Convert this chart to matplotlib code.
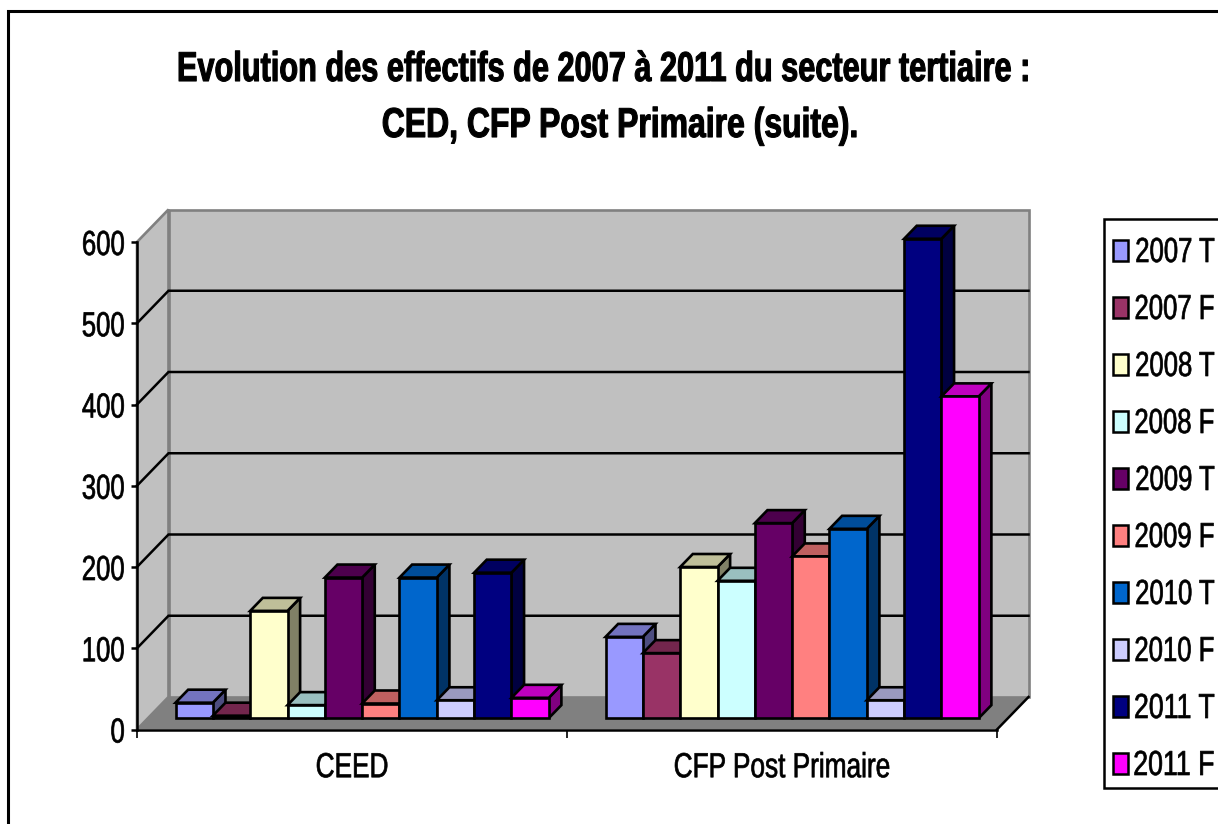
import matplotlib
matplotlib.use("Agg")
import matplotlib.pyplot as plt
from matplotlib.patches import Polygon, Rectangle
from matplotlib.lines import Line2D
from matplotlib.colors import to_rgb
from matplotlib.patheffects import AbstractPathEffect
from matplotlib.transforms import Affine2D

categories = ["CEED", "CFP Post Primaire"]
series = ["2007 T", "2007 F", "2008 T", "2008 F", "2009 T",
          "2009 F", "2010 T", "2010 F", "2011 T", "2011 F"]
ceed = [19, 3, 132, 16, 173, 18, 173, 22, 179, 25]
cfp = [100, 80, 186, 169, 240, 199, 233, 22, 590, 396]
colors = ["#9999FF", "#993366", "#FFFFCC", "#CCFFFF", "#660066",
          "#FF8080", "#0066CC", "#CCCCFF", "#000080", "#FF00FF"]
yticks = [0, 100, 200, 300, 400, 500, 600]

W, H = 1218, 824
plt.rcParams["font.family"] = ["Liberation Sans"]


# the reference text is a horizontally squeezed Arial, no condensed font here
class Squeeze(AbstractPathEffect):
    def __init__(self, sx, anchor="center", weight=0.5):
        super().__init__()
        self.sx = sx
        self.anchor = anchor
        self.weight = weight

    def draw_path(self, renderer, gc, tpath, affine, rgbFace=None):
        box = tpath.get_extents(affine)
        cx = {"left": box.x0, "center": (box.x0 + box.x1) / 2, "right": box.x1}[self.anchor]
        squeeze = Affine2D().translate(-cx, 0).scale(self.sx, 1).translate(cx, 0)
        gc0 = renderer.new_gc()
        gc0.copy_properties(gc)
        gc0.set_linewidth(self.weight)
        gc0.set_foreground(rgbFace)
        renderer.draw_path(gc0, tpath, affine + squeeze, rgbFace)
        gc0.restore()


fig = plt.figure(figsize=(W / 100, H / 100), dpi=100)
fig.patch.set_facecolor("white")
px = Affine2D().scale(1, -1).translate(0, H)  # y-down picture pixels

# outer frame, only left and top are in the picture
fig.add_artist(Line2D([W, 7.5, 7.5], [10.5, 10.5, H], color="black", lw=2.2, transform=px,
                      solid_joinstyle="miter"))

# axes = front plane of the fake 3d box
ax = fig.add_axes([137 / W, 1 - 729.5 / H, 860 / W, 487.5 / H])
ax.set_xlim(0, 2)
ax.set_ylim(0, 600)
ax.patch.set_visible(False)
for s in ax.spines.values():
    s.set_visible(False)

# one full depth of the box in data units
DX = 31.5 / 430
DY = 32.5 / 0.8125


def proj(x, v, d=0.0):
    return (x + d * DX, v + d * DY)


def poly(pts, fc, ec="black", lw=1.9, z=1):
    ax.add_patch(Polygon(pts, closed=True, fc=fc, ec=ec, lw=lw, zorder=z,
                         clip_on=False, joinstyle="miter"))


def shade(c, f):
    return tuple(i * f for i in to_rgb(c))


# walls and floor
poly([proj(0, 0, 1), proj(2, 0, 1), proj(2, 600, 1), proj(0, 600, 1)], "#C0C0C0", "#808080", 1.9)
poly([proj(0, 0), proj(0, 0, 1), proj(0, 600, 1), proj(0, 600)], "#C0C0C0", "#808080", 1.9)
poly([proj(0, 0), proj(2, 0), proj(2, 0, 1), proj(0, 0, 1)], "#808080", "none", 0)

for v in yticks[1:-1]:
    a, b, c = proj(0, v), proj(0, v, 1), proj(2, v, 1)
    ax.plot([a[0], b[0], c[0]], [a[1], b[1], c[1]], color="black", lw=1.8, zorder=2,
            clip_on=False, solid_joinstyle="miter")

# front edges of the box
ax.plot([0, 0], [0, 600], color="black", lw=1.8, zorder=2, clip_on=False)
ax.plot([0, 2], [0, 0], color="black", lw=1.8, zorder=2, clip_on=False)
a, b = proj(2, 0), proj(2, 0, 1)
ax.plot([a[0], b[0]], [a[1], b[1]], color="black", lw=1.8, zorder=2, clip_on=False)

# bars
bar_w = 0.0868
margin = (1 - bar_w * len(series)) / 2 - 0.002
d0, d1 = 0.35, 0.75
for c_i, vals in enumerate([ceed, cfp]):
    for i, v in enumerate(vals):
        x0 = c_i + margin + i * bar_w
        x1 = x0 + bar_w
        col = colors[i]
        poly([proj(x1, 0, d0), proj(x1, 0, d1), proj(x1, v, d1), proj(x1, v, d0)], shade(col, 0.5), z=3)
        poly([proj(x0, v, d0), proj(x1, v, d0), proj(x1, v, d1), proj(x0, v, d1)], shade(col, 0.75), z=3)
        poly([proj(x0, 0, d0), proj(x1, 0, d0), proj(x1, v, d0), proj(x0, v, d0)], col, z=3)

ax.set_yticks(yticks)
ax.set_xticks([0, 1, 2], ["", "", ""])
ax.tick_params(axis="y", length=4.5, width=1.8, pad=4, labelsize=25)
ax.tick_params(axis="x", length=6, width=1.2, pad=0)
for lbl in ax.get_yticklabels():
    lbl.set_path_effects([Squeeze(0.74, "right")])
for i, name in enumerate(categories):
    ax.text(i + 0.5, -47, name, ha="center", va="center", fontsize=25,
            path_effects=[Squeeze(0.755)])

fig.text(604 / W, 1 - 81 / H, "Evolution des effectifs de 2007 à 2011 du secteur tertiaire :",
         ha="center", va="baseline", fontsize=30, fontweight="bold",
         path_effects=[Squeeze(0.737, weight=0.8)])
fig.text(620 / W, 1 - 137 / H, "CED, CFP Post Primaire (suite).",
         ha="center", va="baseline", fontsize=30, fontweight="bold",
         path_effects=[Squeeze(0.766, weight=0.8)])

# legend box runs off the right side
fig.add_artist(Rectangle((1103.5, 218.5), 140, 569, fc="white", ec="black", lw=1.8, transform=px))
for i, name in enumerate(series):
    fig.add_artist(Rectangle((1113, 240 + 57 * i), 15, 20.5, fc=colors[i], ec="black", lw=1.8, transform=px))
    # 2011 has a kerned 11, so it needs a little less squeeze to start at the same x
    sx = 0.77 if name.startswith("2011") else 0.74
    fig.text(1215 / W, 1 - (262 + 57 * i) / H, name, ha="right", va="baseline", fontsize=25,
             path_effects=[Squeeze(sx, "right")])

fig.savefig("out.png", dpi=100)
